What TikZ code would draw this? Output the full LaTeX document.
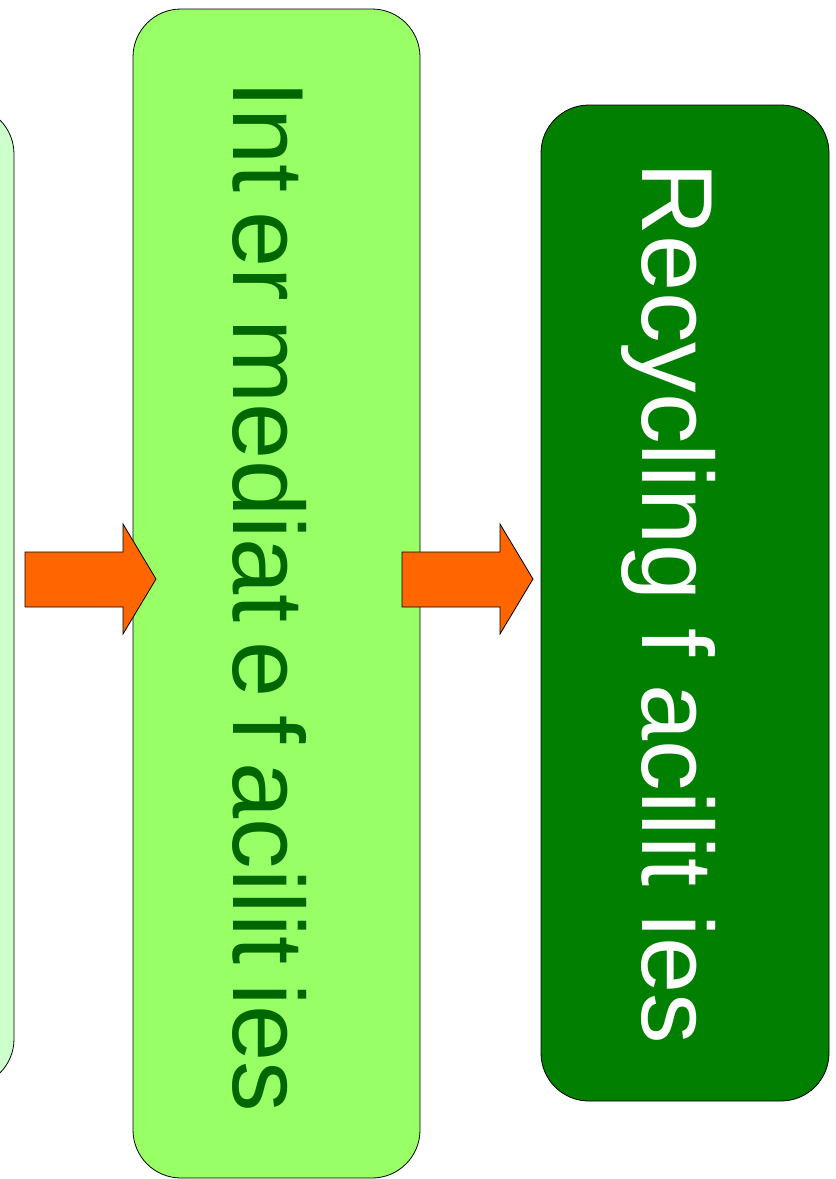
\documentclass[tikz,border=0pt]{standalone}
\usepackage{fontspec}
\setmainfont{Liberation Sans}
\definecolor{palegreen}{HTML}{CCFFCC}
\definecolor{limegreen}{HTML}{99FF66}
\definecolor{deepgreen}{HTML}{007F00}
\definecolor{textgreen}{HTML}{006600}
\definecolor{arroworange}{HTML}{FF6600}
\begin{document}
\begin{tikzpicture}[x=1pt, y=-1pt,
    box/.style={draw, line width=0.8pt, rounded corners=48pt, inner sep=0pt},
    boxtext/.style={rotate=-90, anchor=base, inner sep=0pt, font=\fontsize{101}{101}\selectfont},
    gap/.style={execute at begin node={\spaceskip=#1\relax}},
    fat/.style={draw, line width=0.8pt, fill=arroworange, line join=miter}]
    \useasboundingbox (0,0) rectangle (836,1179);
    \clip (0,0) rectangle (836,1179);

    \node[box, fill=palegreen, minimum width=288pt, minimum height=981pt] (source) at (-130,596.5) {};
    \node[box, fill=limegreen, minimum width=287pt, minimum height=1169pt] (inter) at (276.5,593.5) {};
    \node[box, fill=deepgreen, minimum width=288pt, minimum height=996pt] (recycle) at (685,603) {};

    \draw[fat] (25,552) -- (123,552) -- (123,524) -- (156,579) -- (123,634) -- (123,607) -- (25,607) -- cycle;
    \draw[fat] (402,552) -- (500,552) -- (500,524) -- (533,579) -- (500,634) -- (500,607) -- (402,607) -- cycle;

    \node[boxtext, gap=18.5pt, text=textgreen] (intertext) at (233,596.5) {Int er mediat e f acilit ies};
    \node[boxtext, gap=28pt, text=white] (recycletext) at (642,603.5) {Recycling f acilit ies};
\end{tikzpicture}
\end{document}
